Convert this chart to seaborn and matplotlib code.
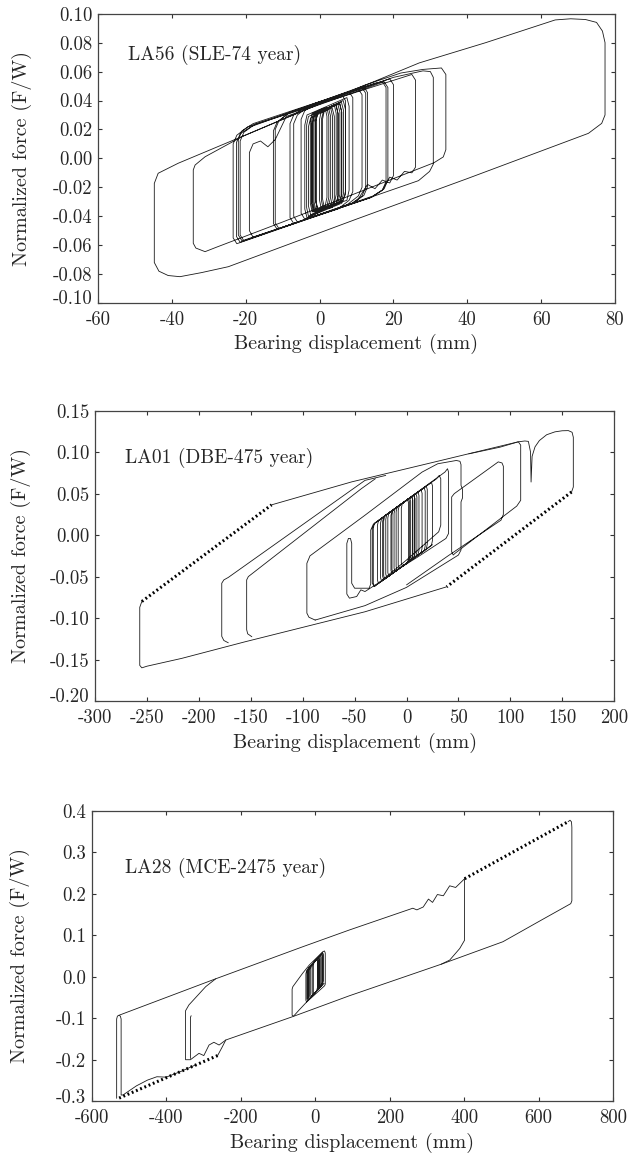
import numpy as np
import pandas as pd
import seaborn as sns
from matplotlib import pyplot as plt
from matplotlib.transforms import ScaledTranslation

# ---- LA56 (SLE-74 year): bearing displacement (mm) vs normalized force, traced path
la56_x = [
    -0.5, -1, -1, -0.4, 2.4, 3, 3, 2.4,
    -1.4, -2, -2, -1.4, 4.4, 5, 5, 4.4,
    1, 0.5, 0.5, 1.1, 5.4, 6, 6, 5.4,
    -2.4, -3, -3, -2.4, 3.4, 4, 4, 3.4,
    -1, -1.5, -1.5, -0.9, 6.4, 7, 7, 6.4,
    -4, -5, -5, -4, -1, 8, 9, 9, 8, 5,
    -7, -8, -8, -7, -4, 11.5, 12.5, 12.5, 11.5, 8.5,
    -11, -12, -12, -11, -8, 12, 13, 13, 12, 9,
    -18, -19, -19, -18, -16, -14, -12, -9, 17.5, 18.5, 18.5, 17.5, 14.5,
    -20.5, -21.5, -21.5, -20.5, -17.5, 19, 20, 20, 19, 17, 15, 13, 10,
    -21.5, -22.5, -22.5, -21.5, -18.5, 12.3, 27, 45, 63.8, 68, 72, 75, 76.6, 77.3, 77.3,
    76.4, 72.8, 40, 10, -10, -24.7, -32, -37.8, -41, -43.5,
    -44.75, -44.75, -43.7, -38.3, 12.3, 22, 28, 33, 34.2, 34.2,
    33.5, 31, 10, -10, -28, -31, -33.5, -34.2, -34.2, -33.7,
    -31, -21, 0, 20, 28, 30, 30.8, 30.8, 29.8, 26.8,
    -22.4, -23.4, -23.4, -22.4, -19.4, 25, 26, 26, 25, 23, 21, 19, 17, 14,
    -21, -22, -22, -21, -18, 15, 17, 18, 18, 17, 14,
    -11.5, -12.5, -12.5, -11.5, -8.5, 10.5, 11.5, 11.5, 10.5, 7.5,
    -6, -7, -7, -6, -3, 6, 7, 7, 6,
    -3.4, -4, -4, -3.4, 7.4, 8, 8, 7.4,
    -2, -2.5, -2.5, -2, 1.5, 2, 2, 1.5,
    -0.5, -1, -1, -0.4, 4.9, 5.5, 5.5, 4.9,
    0.5, 0, 0, 0.5, 4, 4.5, 4.5, 4,
    -3, -3.5, -3.5, -3, 5.5, 6, 6, 5.5,
    -1.3, -1.8, -1.8, -1.3, 3, 3.5, 3.5, 3,
    -1.7, -2.2, -2.2, -1.6, 5.9, 6.5, 6.5, 5.9,
    1.3, 0.8, 0.8, 1.3, 4.5, 5, 5, 4.5,
    -0.5, -1, -1, -0.5, 2, 2.5, 2.5, 2,
]
la56_y = [
    -0.036, -0.030, 0.026, 0.032, 0.035, 0.029, -0.027, -0.033,
    -0.037, -0.031, 0.024, 0.030, 0.037, 0.031, -0.026, -0.032,
    -0.035, -0.029, 0.027, 0.033, 0.038, 0.032, -0.025, -0.031,
    -0.039, -0.033, 0.022, 0.028, 0.035, 0.029, -0.028, -0.034,
    -0.036, -0.030, 0.025, 0.031, 0.040, 0.034, -0.023, -0.029,
    -0.042, -0.038, 0.027, 0.033, 0.038, 0.046, 0.042, -0.023, -0.029, -0.035,
    -0.045, -0.041, 0.024, 0.030, 0.0355, 0.049, 0.045, -0.020, -0.026, -0.0315,
    -0.0485, -0.0446, 0.020, 0.026, 0.032, 0.0496, 0.0454, -0.0196, -0.0256, -0.031,
    -0.0545, -0.050, 0.004, 0.010, 0.012, 0.008, 0.013, 0.029, 0.053, 0.049, -0.015, -0.021, -0.026,
    -0.057, -0.053, 0.012, 0.018, 0.0236, 0.055, 0.051, -0.012, -0.017, -0.015, -0.021, -0.018, -0.030,
    -0.058, -0.054, 0.011, 0.017, 0.022, 0.0505, 0.066, 0.080, 0.0957, 0.0965, 0.096, 0.094, 0.088, 0.080, 0.030,
    0.0242, 0.0173, -0.014, -0.042, -0.061, -0.0749, -0.079, -0.0818, -0.081, -0.078,
    -0.072, -0.0173, -0.0103, -0.0034, 0.0507, 0.059, 0.0615, 0.0625, 0.058, 0.006,
    0.001, -0.003, -0.024, -0.044, -0.0615, -0.0645, -0.062, -0.0587, -0.008, -0.0046,
    0.0011, 0.015, 0.038, 0.056, 0.0605, 0.060, 0.056, -0.004, -0.009, -0.0154,
    -0.059, -0.055, 0.010, 0.016, 0.0219, 0.058, 0.054, -0.006, -0.010, -0.009, -0.015, -0.013, -0.022, -0.027,
    -0.057, -0.053, 0.013, 0.019, 0.024, 0.052, 0.053, 0.049, -0.016, -0.022, -0.027,
    -0.049, -0.045, 0.019, 0.025, 0.031, 0.048, 0.044, -0.020, -0.026, -0.032,
    -0.044, -0.040, 0.024, 0.030, 0.036, 0.044, 0.040, -0.025, -0.031,
    -0.041, -0.035, 0.023, 0.030, 0.042, 0.036, -0.022, -0.029,
    -0.037, -0.031, 0.025, 0.031, 0.035, 0.029, -0.027, -0.033,
    -0.036, -0.030, 0.026, 0.032, 0.038, 0.032, -0.025, -0.031,
    -0.035, -0.029, 0.027, 0.033, 0.037, 0.031, -0.025, -0.031,
    -0.040, -0.034, 0.023, 0.029, 0.038, 0.032, -0.024, -0.030,
    -0.036, -0.030, 0.025, 0.031, 0.035, 0.029, -0.027, -0.033,
    -0.037, -0.031, 0.025, 0.031, 0.039, 0.033, -0.024, -0.030,
    -0.034, -0.028, 0.027, 0.033, 0.037, 0.031, -0.026, -0.032,
    -0.035, -0.029, 0.027, 0.033, 0.035, 0.029, -0.027, -0.033,
]

# ---- LA01 (DBE-475 year); nan separates traced pieces
nan = np.nan
la01_x = [
    -130, -52.8, 27.5, 107.7, 114, 117.4, 119.5, 120, 121, 123.8, 128, 135, 143, 150, 155.9, 159.5, 160.7, 160.7, 159, nan,
    38.7, -40, -155.6, -216.6, -250, -255, -257, -257, -255, nan,
    -171.7, -176, -178, -178, -176, -171.7, -40, -20, nan,
    -149, -153, -154, -154, -152.4, -43.5, -30, nan,
    -88, -94, -96, -96, -93, -40, 15, 30, 48, 51.5, 52.5, 52.5, 54, 54, 52.5, 52.5, 50, 0, -40, -88, nan,
    60, 90, 107.7, 110, 110, 106.2, 46.7, 45, 43.5, 43.5, 46, 88.4, 92, 93.3, 93.3, 91, 40, 0, nan,
    25, 0, -20, -40, -44, -48, -55, -57.5, -57.5, -56, -54, -52.8, -52.8, -50, -36,
    -34.5, -34.5, -32, 29, 31.5, 33, 33, 31, 0, -31, -33, -33, -31, 37, 39.5, 40.5, 40.5, 38, 10,
    -7, -8, -8, -7, 5, 6, 6, 5,
    -14, -15, -15, -14, 1, 2, 2, 1,
    -21, -22, -22, -21, 9, 10, 10, 9,
    -27, -28, -28, -27, 3, 4, 4, 3,
    -11, -12, -12, -11, 14, 15, 15, 14,
    -31, -32, -32, -31, 7, 8, 8, 7,
    -17, -18, -18, -17, 19, 20, 20, 19,
    -24, -25, -25, -24, 11, 12, 12, 11,
    -4, -5, -5, -4, 24, 25, 25, 24,
    -19, -20, -20, -19, 5, 6, 6, 5,
    -9, -10, -10, -9, 17, 18, 18, 17,
    -13, -14, -14, -13, 7, 8, 8, 7,
    -22, -23, -23, -22, 2, 3, 3, 2,
]
la01_y = [
    0.0365, 0.0642, 0.0883, 0.1125, 0.1135, 0.113, 0.100, 0.064, 0.095, 0.1064, 0.114, 0.121, 0.1245, 0.1258, 0.126, 0.124, 0.118, 0.058, 0.052, nan,
    -0.0623, -0.0924, -0.1286, -0.1486, -0.158, -0.160, -0.157, -0.087, -0.080, nan,
    -0.1298, -0.127, -0.122, -0.058, -0.054, -0.051, 0.066, 0.072, nan,
    -0.1225, -0.119, -0.114, -0.054, -0.050, 0.056, 0.068, nan,
    -0.1024, -0.099, -0.094, -0.034, -0.025, 0.024, 0.076, 0.086, 0.090, 0.089, 0.085, 0.060, 0.055, 0.045, 0.040, -0.018, -0.024, -0.063, -0.085, -0.1024, nan,
    0.098, 0.106, 0.1125, 0.1085, 0.042, 0.035, -0.022, -0.024, -0.020, 0.046, 0.050, 0.0883, 0.087, 0.083, 0.025, 0.018, -0.025, -0.060, nan,
    -0.0115, -0.034, -0.052, -0.068, -0.066, -0.074, -0.076, -0.071, -0.010, -0.004, -0.004, -0.010, -0.058, -0.064, -0.064,
    -0.059, 0.006, 0.013, 0.068, 0.072, 0.068, 0.012, 0.004, -0.030, -0.062, -0.058, 0.008, 0.014, 0.076, 0.080, 0.076, 0.002, -0.004, -0.027,
    -0.0403, -0.0362, 0.0298, 0.0357, 0.0465, 0.0424, -0.0236, -0.0295,
    -0.0466, -0.0425, 0.0235, 0.0294, 0.0429, 0.0388, -0.0272, -0.0331,
    -0.0529, -0.0488, 0.0172, 0.0231, 0.0501, 0.046, -0.020, -0.0259,
    -0.0583, -0.0542, 0.0118, 0.0177, 0.0447, 0.0406, -0.0254, -0.0313,
    -0.0439, -0.0398, 0.0262, 0.0321, 0.0546, 0.0505, -0.0155, -0.0214,
    -0.0619, -0.0578, 0.0082, 0.0141, 0.0483, 0.0442, -0.0218, -0.0277,
    -0.0493, -0.0452, 0.0208, 0.0267, 0.0591, 0.055, -0.011, -0.0169,
    -0.0556, -0.0515, 0.0145, 0.0204, 0.0519, 0.0478, -0.0182, -0.0241,
    -0.0376, -0.0335, 0.0325, 0.0384, 0.0636, 0.0595, -0.0065, -0.0124,
    -0.051, -0.047, 0.019, 0.025, 0.0465, 0.0424, -0.0236, -0.0295,
    -0.042, -0.038, 0.028, 0.034, 0.057, 0.053, -0.013, -0.019,
    -0.0457, -0.0416, 0.0244, 0.0303, 0.0483, 0.0442, -0.0218, -0.0277,
    -0.0538, -0.0497, 0.0163, 0.0222, 0.0438, 0.0397, -0.0263, -0.0322,
]
la01_dot_x = [-255, -130, nan, 159, 38.7]
la01_dot_y = [-0.080, 0.0365, nan, 0.052, -0.0623]

# ---- LA28 (MCE-2475 year)
la28_x = [
    -533, -533, -531, -527, -523, -521, -521, -516, -480, -450, -425, -400, -360, -320, nan,
    -527, -267, -34, 91.5, 262, 273, 290, 304, 315, 328, 344, 361, 377, 401, nan,
    401, 401, 388, 361, 338, nan,
    679, 684, 688, 689, 689, 686, 607.5, 504, 338, 91.5, -61, -240, -258, -272, -285, -299, -312,
    -335, -348, -348, -339, -294, -267, nan,
    -240, -250, -262, nan,
    -335, -335, -333, nan,
    24, 0, -22, -45, -58, -62, -62, -60, -34, -16, 20, 25, 27, 27, 25,
    -23, -25, -25, -23, 20, 22, 22, 20,
    -18, -20, -20, -18, 16, 18, 18, 16,
    -13, -15, -15, -13, 13, 15, 15, 13,
    -20, -22, -22, -20, 8, 10, 10, 8,
    -10, -12, -12, -10, 18, 20, 20, 18,
    -6, -8, -8, -6, 10, 12, 12, 10,
    -16, -18, -18, -16, 4, 6, 6, 4,
    -3, -5, -5, -3, 6, 8, 8, 6,
]
la28_y = [
    -0.293, -0.102, -0.095, -0.093, -0.095, -0.102, -0.285, -0.285, -0.263, -0.249, -0.241, -0.242, -0.228, -0.212, nan,
    -0.093, -0.005, 0.072, 0.1125, 0.165, 0.161, 0.168, 0.187, 0.179, 0.198, 0.195, 0.219, 0.215, 0.236, nan,
    0.236, 0.088, 0.068, 0.040, 0.030, nan,
    0.3735, 0.377, 0.373, 0.360, 0.183, 0.176, 0.1366, 0.0843, 0.030, -0.046, -0.0964, -0.1525, -0.1646, -0.158, -0.1646, -0.190, -0.1846,
    -0.200, -0.200, -0.082, -0.068, -0.024, -0.005, nan,
    -0.1525, -0.170, -0.190, nan,
    -0.197, -0.098, -0.094, nan,
    -0.016, -0.038, -0.060, -0.082, -0.095, -0.093, -0.030, -0.024, 0.008, 0.028, 0.060, 0.062, 0.057, -0.018, -0.022,
    -0.061, -0.057, 0.007, 0.015, 0.058, 0.054, -0.010, -0.018,
    -0.056, -0.052, 0.012, 0.020, 0.054, 0.050, -0.014, -0.022,
    -0.051, -0.047, 0.017, 0.025, 0.051, 0.047, -0.017, -0.025,
    -0.058, -0.054, 0.010, 0.018, 0.046, 0.042, -0.022, -0.030,
    -0.048, -0.044, 0.020, 0.028, 0.056, 0.052, -0.012, -0.020,
    -0.044, -0.040, 0.024, 0.032, 0.048, 0.044, -0.020, -0.028,
    -0.054, -0.050, 0.014, 0.022, 0.042, 0.038, -0.026, -0.034,
    -0.041, -0.037, 0.027, 0.035, 0.044, 0.040, -0.024, -0.032,
]
la28_dot_x = [-262, -533, nan, 401, 679]
la28_dot_y = [-0.190, -0.295, nan, 0.236, 0.3735]

panels = [
    dict(x=la56_x, y=la56_y, dx=[], dy=[], label='LA56 (SLE-74 year)',
         xt=[-60, -40, -20, 0, 20, 40, 60, 80],
         yt=[-0.10, -0.08, -0.06, -0.04, -0.02, 0.0, 0.02, 0.04, 0.06, 0.08, 0.10], yfmt='{:.2f}',
         rect=[0.1543, 0.7372, 0.8142, 0.2509], txt=(0.058, 0.857), ylc=-0.128),
    dict(x=la01_x, y=la01_y, dx=la01_dot_x, dy=la01_dot_y, label='LA01 (DBE-475 year)',
         xt=[-300, -250, -200, -150, -100, -50, 0, 50, 100, 150, 200],
         yt=[-0.20, -0.15, -0.10, -0.05, 0.0, 0.05, 0.10, 0.15], yfmt='{:.2f}',
         rect=[0.1498, 0.3920, 0.8173, 0.2518], txt=(0.058, 0.837), ylc=-0.123),
    dict(x=la28_x, y=la28_y, dx=la28_dot_x, dy=la28_dot_y, label='LA28 (MCE-2475 year)',
         xt=[-600, -400, -200, 0, 200, 400, 600, 800],
         yt=[-0.3, -0.2, -0.1, 0.0, 0.1, 0.2, 0.3, 0.4], yfmt='{:.1f}',
         rect=[0.1444, 0.0449, 0.8213, 0.2520], txt=(0.064, 0.803), ylc=-0.118),
]


def pieces(xs, ys):
    df = pd.DataFrame({'x': xs, 'y': ys})
    df['seg'] = df['x'].isna().cumsum()
    return df.dropna()


sns.set_style('ticks')
plt.rcParams['font.family'] = 'serif'
plt.rcParams['font.serif'] = ['cmr10']
plt.rcParams['axes.unicode_minus'] = False

fig = plt.figure(figsize=(6.35, 11.53), dpi=100)

for p in panels:
    ax = fig.add_axes(p['rect'])
    sns.lineplot(data=pieces(p['x'], p['y']), x='x', y='y', units='seg', estimator=None,
                 sort=False, color='#1a1a1a', lw=0.6, ax=ax)
    if p['dx']:
        sns.lineplot(data=pieces(p['dx'], p['dy']), x='x', y='y', units='seg', estimator=None,
                     sort=False, color='black', lw=2.2, linestyle=(0, (0.6, 0.9)), ax=ax)
    ax.set_xlim(p['xt'][0], p['xt'][-1])
    ax.set_ylim(p['yt'][0], p['yt'][-1])
    ax.set_xticks(p['xt'])
    ax.set_xticklabels([str(v) for v in p['xt']])
    ax.set_yticks(p['yt'])
    ax.set_yticklabels([p['yfmt'].format(v) for v in p['yt']])
    ax.tick_params(direction='in', top=True, right=True, length=3, width=0.8,
                   labelsize=13.5, color='#333333')
    ax.tick_params(axis='x', pad=6)
    ax.tick_params(axis='y', pad=4)
    # lift the lowest y label a little so it clears the x labels (as in the reference)
    low = ax.get_yticklabels()[0]
    low.set_transform(low.get_transform() + ScaledTranslation(0, 4 / 72, fig.dpi_scale_trans))
    for s in ax.spines.values():
        s.set_color('#444444')
        s.set_linewidth(0.9)
    ax.set_xlabel('Bearing displacement (mm)', fontsize=14.5)
    ax.set_ylabel('Normalized force (F/W)', fontsize=14.5)
    ax.xaxis.set_label_coords(0.5, -0.108)
    ax.yaxis.set_label_coords(p['ylc'], 0.5)
    ax.text(p['txt'][0], p['txt'][1], p['label'], transform=ax.transAxes,
            fontsize=14, va='center', ha='left')

plt.savefig('out.png', dpi=100)
